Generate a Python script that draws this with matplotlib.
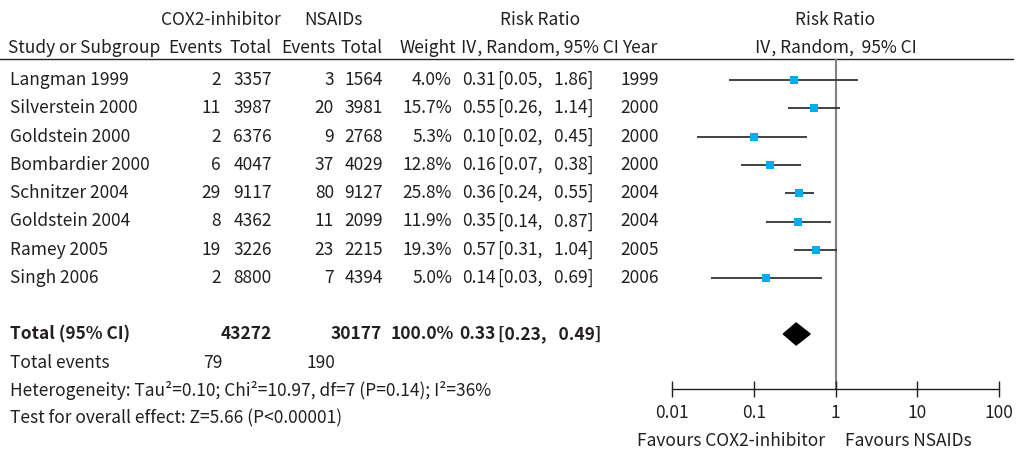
import numpy as np
import matplotlib
matplotlib.use("Agg")
import matplotlib.pyplot as plt

plt.rcParams['font.family'] = ['Noto Sans CJK JP', 'DejaVu Sans']

# ---- data ----
studies = ["Langman 1999", "Silverstein 2000", "Goldstein 2000", "Bombardier 2000",
           "Schnitzer 2004", "Goldstein 2004", "Ramey 2005", "Singh 2006"]
cox_events = [2, 11, 2, 6, 29, 8, 19, 2]
cox_total = [3357, 3987, 6376, 4047, 9117, 4362, 3226, 8800]
nsaid_events = [3, 20, 9, 37, 80, 11, 23, 7]
nsaid_total = [1564, 3981, 2768, 4029, 9127, 2099, 2215, 4394]
weights = [4.0, 15.7, 5.3, 12.8, 25.8, 11.9, 19.3, 5.0]
rr = [0.31, 0.55, 0.10, 0.16, 0.36, 0.35, 0.57, 0.14]
ci_low = [0.05, 0.26, 0.02, 0.07, 0.24, 0.14, 0.31, 0.03]
ci_high = [1.86, 1.14, 0.45, 0.38, 0.55, 0.87, 1.04, 0.69]
years = [1999, 2000, 2000, 2000, 2004, 2004, 2005, 2006]

total_cox_n = 43272
total_nsaid_n = 30177
total_cox_events = 79
total_nsaid_events = 190
pooled_rr, pooled_low, pooled_high = 0.33, 0.23, 0.49

ticks = [0.01, 0.1, 1, 10, 100]
tick_labels = ["0.01", "0.1", "1", "10", "100"]

# ---- layout (pixels) ----
W, H = 1034, 454
FS = 12.5
TXT = '#231f20'
row_y = [80 + 28.3 * i for i in range(len(studies))]
total_y = 334
events_y = 363
het_y = 390
test_y = 418
head1_y = 20
head2_y = 48
line_y = 59
axis_y = 389
fx0, fx1 = 672, 999

fig = plt.figure(figsize=(W / 100, H / 100), dpi=100)
ax = fig.add_axes([0, 0, 1, 1])
ax.set_xlim(0, W)
ax.set_ylim(H, 0)
ax.axis('off')


def txt(x, y, s, ha='left', bold=False, size=FS, color=TXT):
    ax.text(x, y, s, ha=ha, va='center', fontsize=size, color=color,
            fontweight='bold' if bold else 'normal')


def ci_text(y, lo, hi, bold=False):
    txt(498, y, f"[{lo:.2f},   {hi:.2f}]", bold=bold)


# headers
txt(221, head1_y, "COX2-inhibitor", ha='center')
txt(333, head1_y, "NSAIDs", ha='center')
txt(540, head1_y, "Risk Ratio", ha='center')
txt(835, head1_y, "Risk Ratio", ha='center')
txt(8, head2_y, "Study or Subgroup")
txt(222, head2_y, "Events", ha='right')
txt(272, head2_y, "Total", ha='right')
txt(335, head2_y, "Events", ha='right')
txt(383, head2_y, "Total", ha='right')
txt(456, head2_y, "Weight", ha='right')
txt(460, head2_y, "Ⅳ, Random, 95% CI")
txt(622, head2_y, "Year")
txt(835, head2_y, "Ⅳ, Random,  95% CI", ha='center')
ax.plot([0, 1013], [line_y, line_y], color='#231f20', lw=1.0)

# study rows
for i, y in enumerate(row_y):
    txt(10, y, studies[i])
    txt(221, y, f"{cox_events[i]}", ha='right')
    txt(272, y, f"{cox_total[i]}", ha='right')
    txt(334, y, f"{nsaid_events[i]}", ha='right')
    txt(383, y, f"{nsaid_total[i]}", ha='right')
    txt(452, y, f"{weights[i]:.1f}%", ha='right')
    txt(496, y, f"{rr[i]:.2f}", ha='right')
    ci_text(y, ci_low[i], ci_high[i])
    txt(620, y, f"{years[i]}")

# totals
txt(10, total_y, "Total (95% CI)", bold=True)
txt(272, total_y, f"{total_cox_n}", ha='right', bold=True)
txt(382, total_y, f"{total_nsaid_n}", ha='right', bold=True)
txt(454, total_y, "100.0%", ha='right', bold=True)
txt(496, total_y, f"{pooled_rr:.2f}", ha='right', bold=True)
ci_text(total_y, pooled_low, pooled_high, bold=True)
txt(10, events_y, "Total events")
txt(222, events_y, f"{total_cox_events}", ha='right')
txt(335, events_y, f"{total_nsaid_events}", ha='right')
txt(10, het_y, "Heterogeneity: Tau²=0.10; Chi²=10.97, df=7 (P=0.14); I²=36%")
txt(10, test_y, "Test for overall effect: Z=5.66 (P<0.00001)")

# forest panel on a log scale
axf = fig.add_axes([fx0 / W, (H - axis_y) / H, (fx1 - fx0) / W, (axis_y - line_y) / H])
axf.set_xscale('log')
axf.set_xlim(ticks[0], ticks[-1])
axf.set_ylim(axis_y, line_y)
axf.patch.set_alpha(0)
for s in ['left', 'right', 'top']:
    axf.spines[s].set_visible(False)
axf.spines['bottom'].set_color('#231f20')
axf.spines['bottom'].set_linewidth(1.0)
axf.set_yticks([])
axf.set_xticks(ticks)
axf.set_xticklabels(tick_labels)
axf.minorticks_off()
axf.tick_params(axis='x', direction='inout', length=11, width=1.0, color='#231f20',
                labelsize=FS, labelcolor=TXT, pad=5)

axf.axvline(1, color='#808080', lw=1.5, zorder=1)
axf.hlines(row_y, ci_low, ci_high, color='#333333', lw=1.3, zorder=2, clip_on=False)
axf.scatter(rr, row_y, marker='s', s=36, color='#00AEEF', zorder=3, linewidths=0, clip_on=False)
axf.fill([pooled_low, pooled_rr, pooled_high, pooled_rr],
         [total_y, total_y - 11, total_y, total_y + 11], color='black', zorder=3, clip_on=False)

txt(825, 441, "Favours COX2-inhibitor", ha='right')
txt(845, 441, "Favours NSAIDs")

fig.savefig("out.png", dpi=100)
